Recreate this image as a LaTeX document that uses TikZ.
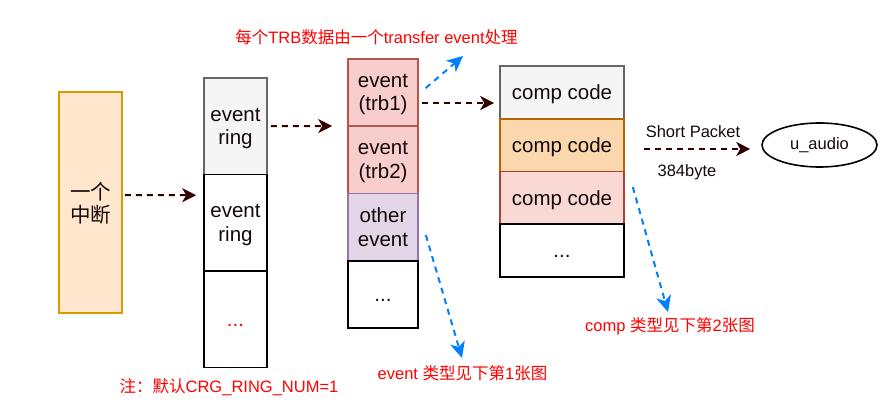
\documentclass[tikz,border=0pt]{standalone}
\usepackage{fontspec}
\setmainfont{Liberation Sans}
\newfontfamily\cjk{Noto Sans CJK SC}
\usetikzlibrary{arrows.meta,calc,positioning,shapes.geometric}
\definecolor{IrqFill}{HTML}{FFE6CC}
\definecolor{IrqLine}{HTML}{D79B00}
\definecolor{GrayFill}{HTML}{F5F5F5}
\definecolor{GrayLine}{HTML}{666666}
\definecolor{TrbFill}{HTML}{F8CECC}
\definecolor{TrbLine}{HTML}{B85450}
\definecolor{OtherFill}{HTML}{E1D5E7}
\definecolor{OtherLine}{HTML}{9673A6}
\definecolor{OkFill}{HTML}{FAD7AC}
\definecolor{OkLine}{HTML}{B46504}
\definecolor{ErrFill}{HTML}{FAD9D5}
\definecolor{ErrLine}{HTML}{AE4132}
\definecolor{ArrowDark}{HTML}{330000}
\definecolor{HintBlue}{HTML}{007FFF}
\definecolor{NoteRed}{HTML}{FF0000}
\definecolor{BoxText}{HTML}{140A0A}

\begin{document}
\begin{tikzpicture}[>=Stealth,x=1pt,y=-1pt]
    \tikzset{cell/.style={draw,line width=1.6pt,inner sep=0pt,align=center,text=BoxText,text depth=-5pt,font=\fontsize{20.5}{23.5}\selectfont},
      dots/.style={text height=14.7pt},
      ringcell/.style={cell,minimum width=63pt,minimum height=96.5pt},
      evcell/.style={cell,minimum width=70pt,minimum height=67.25pt},
      compcell/.style={cell,minimum width=124pt,minimum height=52.75pt},
      link/.style={ArrowDark,line width=2pt,dash pattern=on 6pt off 5pt,-{Stealth[length=14pt,width=14pt,inset=4pt]}},
      hint/.style={HintBlue,line width=2pt,dash pattern=on 6pt off 5pt,-{Stealth[length=16pt,width=15pt,inset=4.5pt]}},
      note/.style={text=NoteRed,inner sep=0pt,font=\fontsize{16.5}{19}\selectfont},
      lbl/.style={text=BoxText,inner sep=0pt,font=\fontsize{16.5}{19}\selectfont}}
    \useasboundingbox (0,0) rectangle (892,409);
    \node[cell,draw=IrqLine,fill=IrqFill,minimum width=63pt,minimum height=221pt,text depth=-9pt] (irq) at (90.5,202.5) {{\cjk 一个}\\{\cjk 中断}};
    \node[ringcell,draw=GrayLine,fill=GrayFill] (ring1) at (235.5,126.25) {event\\ring};
    \node[ringcell,fill=white] (ring2) at (235.5,222.75) {event\\ring};
    \node[ringcell,dots,fill=white,text=NoteRed] (ring3) at (235.5,319.25) {...};
    \node[evcell,draw=TrbLine,fill=TrbFill] (ev1) at (383,92.6) {event\\(trb1)};
    \node[evcell,draw=TrbLine,fill=TrbFill] (ev2) at (383,159.9) {event\\(trb2)};
    \node[evcell,draw=OtherLine,fill=OtherFill] (ev3) at (383,227.1) {other\\event};
    \node[evcell,dots,fill=white] (ev4) at (383,294.4) {...};
    \node[compcell,draw=GrayLine,fill=GrayFill] (comp1) at (562,92.4) {comp code};
    \node[compcell,draw=OkLine,fill=OkFill] (comp2) at (562,145.1) {comp code};
    \node[compcell,draw=ErrLine,fill=ErrFill] (comp3) at (562,197.9) {comp code};
    \node[compcell,dots,fill=white] (comp4) at (562,250.6) {...};
    \node[draw,ellipse,line width=1.6pt,minimum width=115pt,minimum height=44pt,inner sep=0pt,lbl] (uaudio) at (819.5,145) {u\_audio};
    % red notes
    \node[note] (trbnote) at (376.5,37) {{\cjk 每个}TRB{\cjk 数据由一个}transfer event{\cjk 处理}};
    \node[note] (ringnote) at (229,387) {{\cjk 注：默认}CRG\_RING\_NUM=1};
    \node[note] (evnote) at (462.5,373) {event {\cjk 类型见下第}1{\cjk 张图}};
    \node[note] (compnote) at (670,326) {comp {\cjk 类型见下第}2{\cjk 张图}};
    \node[lbl] (sp) at (693,132) {Short Packet};
    \node[lbl] (spsize) at (687,172) {384byte};
    \coordinate (spstart) at (644,149);
    \coordinate (trbtip) at (463,56);
    \coordinate (evtip) at (462,358);
    \coordinate (comptip) at (668,312);
    % arrows
    \draw[link] ([xshift=2pt,yshift=7.5pt]irq.east) -- ([xshift=-7pt,yshift=27.5pt]ring2.west);
    \draw[link] ([xshift=3pt]ring1.east) -- ([xshift=-15pt,yshift=-33.4pt]ev1.west);
    \draw[link] ([xshift=3pt,yshift=-10.4pt]ev1.east) -- ([xshift=-5pt,yshift=-10.6pt]comp1.west);
    \draw[link] (spstart) -- ([xshift=-11pt,yshift=-4pt]uaudio.west);
    \draw[hint] ([xshift=7pt,yshift=4.6pt]ev1.east) -- (trbtip);
    \draw[hint] ([xshift=7pt,yshift=-7.9pt]ev3.east) -- (evtip);
    \draw[hint] ([xshift=8pt,yshift=10.9pt]comp3.east) -- (comptip);
\end{tikzpicture}
\end{document}
